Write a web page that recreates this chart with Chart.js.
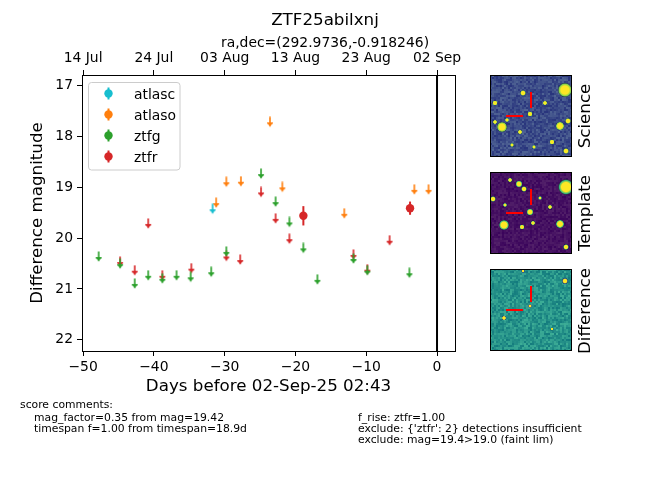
<!DOCTYPE html>
<html>
<head>
<meta charset="utf-8">
<script src="https://cdn.jsdelivr.net/npm/chart.js@4.4.1/dist/chart.umd.min.js"></script>
<style>
  html, body { margin: 0; padding: 0; background: #fff; }
  #wrap { width: 650px; height: 500px; }
</style>
</head>
<body>
<div id="wrap"><canvas id="lc" width="650" height="500"></canvas></div>
<script>
// days before 02-Sep-25 02:43 and difference magnitudes
const atlascLimDays = [-31.7];
const atlascLimMags = [19.43];

const atlasoLimDays = [-31.2, -29.76, -27.7, -23.6, -21.85, -13.1, -3.2, -1.2];
const atlasoLimMags = [19.31, 18.90, 18.89, 17.72, 19.00, 19.52, 19.05, 19.05];

const ztfgLimDays = [-47.8, -44.77, -42.7, -40.8, -38.8, -36.8, -34.8, -31.9, -29.76,
                     -24.86, -22.8, -20.85, -18.88, -16.9, -11.8, -9.84, -3.9];
const ztfgLimMags = [20.37, 20.51, 20.90, 20.74, 20.80, 20.74, 20.77, 20.67, 20.27,
                     18.74, 19.29, 19.69, 20.20, 20.82, 20.41, 20.64, 20.69];

const ztfrLimDays = [-44.77, -42.7, -40.8, -38.8, -34.7, -29.76, -27.8, -24.86, -22.8,
                     -20.85, -11.8, -9.84, -6.7];
const ztfrLimMags = [20.47, 20.64, 19.72, 20.74, 20.60, 20.36, 20.43, 19.10, 19.62,
                     20.02, 20.33, 20.62, 20.05];

const ztfrDetDays = [-18.88, -3.81];
const ztfrDetMags = [19.56, 19.41];
const ztfrDetErrs = [0.19, 0.13];

const dayTicks = [-50, -40, -30, -20, -10, 0];
const dateLabels = ['14 Jul', '24 Jul', '03 Aug', '13 Aug', '23 Aug', '02 Sep'];
const magTicks = [17, 18, 19, 20, 21, 22];

const bandNames = ['atlasc', 'atlaso', 'ztfg', 'ztfr'];
const bandColors = ['#17becf', '#ff7f0e', '#2ca02c', '#d62728'];

const xMin = -50.15, xMax = 2.54;
const yMin = 16.79, yMax = 22.22;

const FONT = "'DejaVu Sans', sans-serif";
Chart.defaults.font.family = FONT;
Chart.defaults.color = '#000';

function pts(days, mags) {
  return days.map((d, i) => ({ x: d, y: mags[i] }));
}

// little down arrow used for upper limits
function makeArrow(color) {
  const c = document.createElement('canvas');
  c.width = 8; c.height = 12;
  const g = c.getContext('2d');
  g.fillStyle = color;
  g.fillRect(3.2, 0.5, 1.6, 6.5);
  g.fillRect(1, 6.2, 6, 1.3);
  g.beginPath();
  g.moveTo(1.3, 6.5); g.lineTo(6.7, 6.5); g.lineTo(4, 10.8);
  g.closePath(); g.fill();
  return c;
}

function limitSet(days, mags, color) {
  return {
    data: pts(days, mags),
    pointStyle: makeArrow(color),
    showLine: false
  };
}

// error bars under the detection circles
const errorBars = {
  id: 'errorBars',
  beforeDatasetsDraw(chart) {
    const { ctx, scales: { x, y } } = chart;
    chart.data.datasets.forEach(ds => {
      if (!ds.errs) return;
      ctx.save();
      ctx.strokeStyle = ds.backgroundColor;
      ctx.lineWidth = 2;
      ds.data.forEach((p, i) => {
        const px = x.getPixelForValue(p.x);
        ctx.beginPath();
        ctx.moveTo(px, y.getPixelForValue(p.y - ds.errs[i]));
        ctx.lineTo(px, y.getPixelForValue(p.y + ds.errs[i]));
        ctx.stroke();
      });
      ctx.restore();
    });
  }
};

// image stamps on the right (decoration only)
const stampBlobs = {
  science: [[75, 15, 5], [12, 52, 3.6], [70, 51, 3], [40, 39, 1.8], [33, 18, 2], [55, 28, 1.6],
            [30, 57, 1.6], [5, 28, 1.8], [78, 46, 2], [76, 76, 2], [62, 67, 1.8], [5, 47, 1.5],
            [17, 45, 1.4], [44, 72, 1.3], [22, 70, 1.3]],
  template: [[76, 15, 5.5], [14, 53, 3.6], [29, 12, 2.4], [34, 17, 2], [40, 40, 2.4], [70, 52, 3],
             [3, 27, 2], [43, 51, 1.6], [32, 55, 1.8], [60, 35, 1.6], [76, 75, 2], [20, 8, 1.6],
             [15, 33, 1.4], [50, 26, 1.3]],
  difference: [[75, 12, 2.2], [14, 49, 1.7], [40, 37, 1.4], [33, 2, 1.3], [62, 60, 1.1]]
};

function hash(i, j, s) {
  const v = Math.sin(i * 12.9898 + j * 78.233 + s * 37.719) * 43758.5453;
  return v - Math.floor(v);
}

function drawStamp(ctx, x0, y0, size, base, amp, seed, blobs, core, halo) {
  ctx.save();
  ctx.beginPath(); ctx.rect(x0, y0, size, size); ctx.clip();
  const cell = 2;
  for (let i = 0; i < size; i += cell) {
    for (let j = 0; j < size; j += cell) {
      const n = (hash(i, j, seed) - 0.5) * amp;
      ctx.fillStyle = `rgb(${base[0] + n},${base[1] + n * 1.2},${base[2] + n * 0.6})`;
      ctx.fillRect(x0 + i, y0 + j, cell, cell);
    }
  }
  blobs.forEach(([bx, by, r]) => {
    const gr = ctx.createRadialGradient(x0 + bx, y0 + by, 0, x0 + bx, y0 + by, r * 1.5);
    gr.addColorStop(0, core);
    gr.addColorStop(0.55, core);
    gr.addColorStop(0.8, halo);
    gr.addColorStop(1, 'rgba(0,0,0,0)');
    ctx.fillStyle = gr;
    ctx.beginPath(); ctx.arc(x0 + bx, y0 + by, r * 1.5, 0, Math.PI * 2); ctx.fill();
  });
  ctx.strokeStyle = '#ff0000';
  ctx.lineWidth = 2;
  ctx.beginPath(); ctx.moveTo(x0 + 16, y0 + 41); ctx.lineTo(x0 + 33, y0 + 41); ctx.stroke();
  ctx.beginPath(); ctx.moveTo(x0 + 41, y0 + 17); ctx.lineTo(x0 + 41, y0 + 33); ctx.stroke();
  ctx.restore();
  ctx.strokeStyle = '#000';
  ctx.lineWidth = 1;
  ctx.strokeRect(x0 + 0.5, y0 + 0.5, size, size);
}

const decorations = {
  id: 'decorations',
  afterDraw(chart) {
    const ctx = chart.ctx;
    ctx.save();
    // titles
    ctx.fillStyle = '#000';
    ctx.textAlign = 'center';
    ctx.textBaseline = 'alphabetic';
    ctx.font = `16.7px ${FONT}`;
    ctx.fillText('ZTF25abilxnj', 325, 25);
    ctx.font = `13.9px ${FONT}`;
    ctx.fillText('ra,dec=(292.9736,-0.918246)', 325, 47);

    // legend
    const lx = 88.5, ly = 82.5, lw = 91.5, lh = 87.5;
    ctx.beginPath();
    ctx.roundRect(lx, ly, lw, lh, 3);
    ctx.fillStyle = 'rgba(255,255,255,0.8)';
    ctx.fill();
    ctx.strokeStyle = '#cccccc';
    ctx.lineWidth = 1;
    ctx.stroke();
    const rowY = [93.5, 114.5, 135.5, 156.5];
    ctx.textAlign = 'left';
    ctx.font = `13.9px ${FONT}`;
    bandNames.forEach((name, i) => {
      const mx = 108.5, my = rowY[i];
      ctx.strokeStyle = bandColors[i];
      ctx.lineWidth = 2;
      ctx.beginPath(); ctx.moveTo(mx, my - 6); ctx.lineTo(mx, my + 6); ctx.stroke();
      ctx.fillStyle = bandColors[i];
      ctx.beginPath(); ctx.arc(mx, my, 4.2, 0, Math.PI * 2); ctx.fill();
      ctx.fillStyle = '#000';
      ctx.fillText(name, 134, my + 5);
    });

    // stamps
    drawStamp(ctx, 490, 75, 81, [60, 76, 136], 40, 1, stampBlobs.science, '#fde725', '#7ad151');
    drawStamp(ctx, 490, 172, 81, [70, 18, 98], 24, 2, stampBlobs.template, '#fde725', '#35b779');
    drawStamp(ctx, 490, 269, 81, [40, 148, 138], 42, 3, stampBlobs.difference, '#fde725', '#3b528b');

    ctx.fillStyle = '#000';
    ctx.font = `16.7px ${FONT}`;
    ctx.textAlign = 'center';
    ctx.textBaseline = 'middle';
    [['Science', 116], ['Template', 213], ['Difference', 311]].forEach(([t, cy]) => {
      ctx.save();
      ctx.translate(586, cy);
      ctx.rotate(-Math.PI / 2);
      ctx.fillText(t, 0, 0);
      ctx.restore();
    });

    // score comments
    ctx.textAlign = 'left';
    ctx.textBaseline = 'alphabetic';
    ctx.font = `10.8px ${FONT}`;
    ctx.fillText('score comments:', 20, 408);
    ctx.fillText('mag_factor=0.35 from mag=19.42', 34, 421);
    ctx.fillText('timespan f=1.00 from timespan=18.9d', 34, 432);
    ctx.fillText('f_rise: ztfr=1.00', 358, 421);
    ctx.fillText("exclude: {'ztfr': 2} detections insufficient", 358, 432);
    ctx.fillText('exclude: mag=19.4>19.0 (faint lim)', 358, 443);
    ctx.restore();
  }
};

const minus = v => (v < 0 ? '\u2212' + Math.abs(v) : String(v));

new Chart(document.getElementById('lc'), {
  type: 'scatter',
  data: {
    datasets: [
      {
        type: 'line',
        data: [{ x: 0, y: yMin }, { x: 0, y: yMax }],
        borderColor: '#000',
        borderWidth: 2,
        pointRadius: 0
      },
      limitSet(atlascLimDays, atlascLimMags, bandColors[0]),
      limitSet(atlasoLimDays, atlasoLimMags, bandColors[1]),
      limitSet(ztfgLimDays, ztfgLimMags, bandColors[2]),
      limitSet(ztfrLimDays, ztfrLimMags, bandColors[3]),
      {
        data: pts(ztfrDetDays, ztfrDetMags),
        errs: ztfrDetErrs,
        backgroundColor: bandColors[3],
        pointRadius: 4.2,
        borderWidth: 0
      }
    ]
  },
  options: {
    responsive: false,
    animation: false,
    events: [],
    layout: { padding: { left: 28, top: 0, right: 185, bottom: 103 } },
    plugins: { legend: { display: false }, tooltip: { enabled: false } },
    scales: {
      x: {
        type: 'linear', position: 'bottom', min: xMin, max: xMax,
        afterBuildTicks: s => { s.ticks = dayTicks.map(v => ({ value: v })); },
        afterFit: s => { s.height = 46; },
        grid: { drawOnChartArea: false, drawTicks: true, tickLength: 5, color: '#000' },
        border: { display: true, color: '#000', width: 1 },
        ticks: { font: { size: 13.9 }, padding: 3, maxRotation: 0, callback: v => minus(v) },
        title: { display: true, text: 'Days before 02-Sep-25 02:43', font: { size: 16.7 }, padding: 0 }
      },
      xTop: {
        type: 'linear', position: 'top', min: xMin, max: xMax,
        afterBuildTicks: s => { s.ticks = dayTicks.map(v => ({ value: v })); },
        afterFit: s => { s.height = 75; },
        grid: { drawOnChartArea: false, drawTicks: true, tickLength: 5, color: '#000' },
        border: { display: true, color: '#000', width: 1 },
        ticks: { font: { size: 13.9 }, padding: 3, maxRotation: 0,
                 callback: v => dateLabels[dayTicks.indexOf(v)] }
      },
      y: {
        type: 'linear', position: 'left', reverse: true, min: yMin, max: yMax,
        afterBuildTicks: s => { s.ticks = magTicks.map(v => ({ value: v })); },
        afterFit: s => { s.width = 54; },
        grid: { drawOnChartArea: false, drawTicks: true, tickLength: 5, color: '#000' },
        border: { display: true, color: '#000', width: 1 },
        ticks: { font: { size: 13.9 }, padding: 4, callback: v => String(v) },
        title: { display: true, text: 'Difference magnitude', font: { size: 16.7 }, padding: 0 }
      },
      yRight: {
        type: 'linear', position: 'right', reverse: true, min: yMin, max: yMax,
        afterFit: s => { s.width = 10; },
        grid: { display: false },
        border: { display: true, color: '#000', width: 1 },
        ticks: { display: false }
      }
    }
  },
  plugins: [errorBars, decorations]
});
</script>
</body>
</html>
